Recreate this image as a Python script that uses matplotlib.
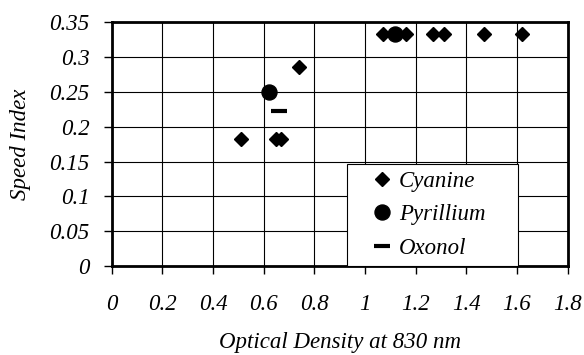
import numpy as np
import matplotlib.pyplot as plt

# data
cyanine_x = [0.51, 0.65, 0.67, 0.74, 1.07, 1.16, 1.27, 1.31, 1.47, 1.62]
cyanine_y = [0.182, 0.182, 0.182, 0.286, 0.333, 0.333, 0.333, 0.333, 0.333, 0.333]
pyrillium_x = [0.62, 1.12]
pyrillium_y = [0.25, 0.333]
oxonol_x = [0.66]
oxonol_y = [0.222]

x_ticks = [0, 0.2, 0.4, 0.6, 0.8, 1, 1.2, 1.4, 1.6, 1.8]
y_ticks = [0, 0.05, 0.1, 0.15, 0.2, 0.25, 0.3, 0.35]

plt.rcParams['font.family'] = ['Liberation Serif', 'DejaVu Serif']
plt.rcParams['font.style'] = 'italic'
FS = 16.5

fig = plt.figure(figsize=(5.84, 3.55), dpi=100)
ax = fig.add_axes([111.7 / 584, 1 - 266 / 355, 456 / 584, 243.7 / 355])

ax.plot(cyanine_x, cyanine_y, ls='none', marker='D', ms=6.8, color='black', label='Cyanine')
ax.plot(pyrillium_x, pyrillium_y, ls='none', marker='o', ms=10.8, color='black', label='Pyrillium')
ax.plot(oxonol_x, oxonol_y, ls='none', marker='_', ms=11, mew=3, color='black', label='Oxonol')

ax.set_xlim(0, 1.8)
ax.set_ylim(0, 0.35)
ax.set_xticks(x_ticks)
ax.set_yticks(y_ticks)
ax.set_xticklabels([f'{v:g}' for v in x_ticks])
ax.set_yticklabels([f'{v:g}' for v in y_ticks])
ax.grid(True, color='black', lw=0.8)
ax.set_axisbelow(True)
for s in ax.spines.values():
    s.set_linewidth(2)
ax.tick_params(axis='x', direction='out', length=6, width=1, pad=14, labelsize=FS)
ax.tick_params(axis='y', direction='out', length=6, width=1, pad=10, labelsize=FS)

ax.set_xlabel('Optical Density at 830 nm', fontsize=FS, labelpad=12.5)
ax.set_ylabel('Speed Index', fontsize=FS)
ax.yaxis.set_label_coords(-0.176, 0.5)

leg = ax.legend(loc='lower left', bbox_to_anchor=(0.517, 0.0, 0.375, 0.419), mode='expand',
                fontsize=FS, frameon=True, fancybox=False, borderaxespad=0,
                handlelength=2.4, handletextpad=-0.45, labelspacing=0.55, borderpad=0.3)
leg.get_frame().set_edgecolor('black')
leg.get_frame().set_linewidth(0.8)
leg.get_frame().set_alpha(1)

fig.savefig('out.png', dpi=100)
